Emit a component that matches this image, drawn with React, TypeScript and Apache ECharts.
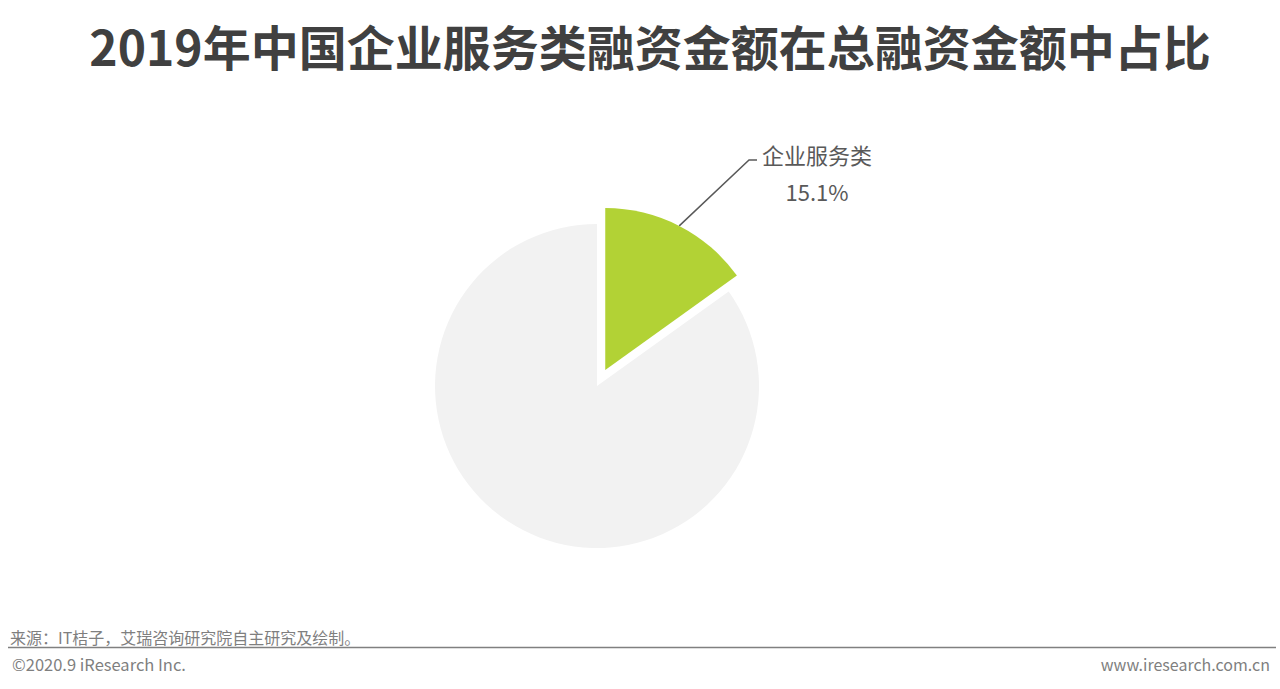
import React, { useEffect, useRef } from "react";
import * as echarts from "echarts";

const TITLE = "2019年中国企业服务类融资金额在总融资金额中占比";
const categories = ["企业服务类", "其他"];
const shares = [15.1, 84.9];
const colors = ["#b2d235", "#f2f2f2"];
const SOURCE = "来源：IT桔子，艾瑞咨询研究院自主研究及绘制。";
const COPYRIGHT = "©2020.9 iResearch Inc.";
const WEBSITE = "www.iresearch.com.cn";

const FONT = '"Noto Sans CJK SC", "Noto Sans", sans-serif';

export default function App() {
  const ref = useRef<HTMLDivElement>(null);
  useEffect(() => {
    if (!ref.current) return;
    const chart = echarts.init(ref.current, null, { renderer: "svg" });
    const data = categories.map((name, i) => ({
      name,
      value: shares[i],
      selected: i === 0,
      itemStyle: { color: colors[i] },
      label: { show: i === 0 },
      labelLine: { show: i === 0 },
    }));
    chart.setOption({
      animation: false,
      backgroundColor: "#ffffff",
      graphic: [
        {
          type: "text",
          x: 650,
          y: 45,
          style: {
            text: TITLE,
            fontSize: 48,
            fontWeight: "bold",
            fontFamily: FONT,
            fill: "#404040",
            textAlign: "center",
            textVerticalAlign: "middle",
          },
        },
        {
          type: "text",
          x: 10,
          y: 637,
          style: {
            text: SOURCE,
            fontSize: 16,
            fontFamily: FONT,
            fill: "#7f7f7f",
            textAlign: "left",
            textVerticalAlign: "middle",
          },
        },
        {
          type: "line",
          shape: { x1: 8, y1: 647.5, x2: 1276, y2: 647.5 },
          style: { stroke: "#808080", lineWidth: 1.5 },
        },
        {
          type: "text",
          x: 12,
          y: 664,
          style: {
            text: COPYRIGHT,
            fontSize: 16.5,
            fontFamily: FONT,
            fill: "#7f7f7f",
            textAlign: "left",
            textVerticalAlign: "middle",
          },
        },
        {
          type: "text",
          x: 1270,
          y: 664,
          style: {
            text: WEBSITE,
            fontSize: 16,
            fontFamily: FONT,
            fill: "#7f7f7f",
            textAlign: "right",
            textVerticalAlign: "middle",
          },
        },
      ],
      series: [
        {
          type: "pie",
          center: [597, 386],
          radius: [0, 162],
          startAngle: 90,
          clockwise: true,
          selectedMode: "single",
          selectedOffset: 18,
          avoidLabelOverlap: false,
          emphasis: { disabled: true },
          data,
          label: {
            position: "outside",
            formatter: (p: any) => `{a|${p.name}}\n{a|${p.value}%}`,
            rich: {
              a: {
                fontSize: 22,
                fontFamily: FONT,
                color: "#595959",
                lineHeight: 37,
                align: "center",
              },
            },
          },
          labelLine: {
            length: 74,
            length2: 44,
            lineStyle: { color: "#595959", width: 1.5 },
          },
          labelLayout: (params: any) => {
            if (params.dataIndex !== 0 || !params.labelLinePoints) return {};
            const pts = params.labelLinePoints;
            const end = pts[pts.length - 1];
            return {
              dy: 12,
              labelLinePoints: [pts[0], [end[0] - 8, end[1]], end],
            };
          },
        },
      ],
    });
    return () => chart.dispose();
  }, []);
  return (
    <div
      ref={ref}
      style={{ position: "fixed", left: 0, top: 0, width: 1280, height: 689 }}
    />
  );
}
